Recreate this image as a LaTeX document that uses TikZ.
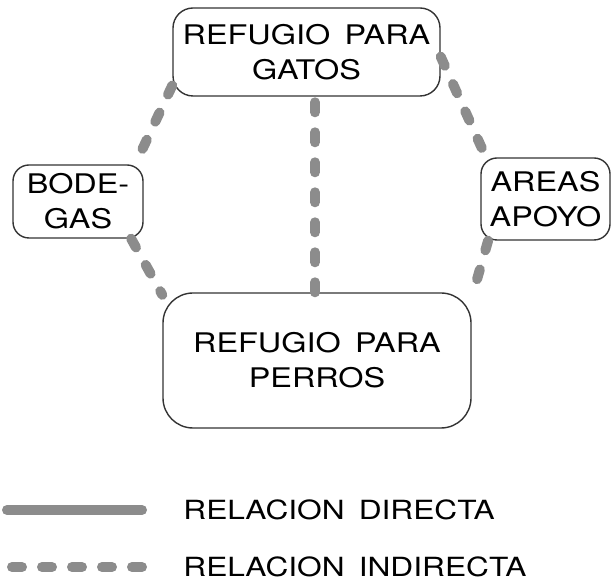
\documentclass[tikz,border=0pt]{standalone}
\usepackage{fontspec}
\setmainfont{TeX Gyre Heros}[FakeStretch=1.2, WordSpace=1.6]
\usetikzlibrary{positioning}

\begin{document}
\begin{tikzpicture}[x=0.5pt,y=-0.5pt,
  area/.style={draw=black!80, line width=0.7pt, align=center, inner sep=0pt,
    font=\fontsize{13.5}{17.5}\selectfont},
  indirecta/.style={draw=black!45, line width=5pt, line cap=round, dash pattern=on 5pt off 10pt},
  directa/.style={draw=black!45, line width=5pt, line cap=round},
  leyenda/.style={anchor=west, inner sep=0pt, font=\fontsize{13.2}{16}\selectfont}]
\useasboundingbox (0,0) rectangle (611,582);
\node (gatos) at (306.5,52) [area, rounded corners=10pt, minimum width=133.5pt, minimum height=44pt] {REFUGIO PARA\\GATOS};
\node (bodegas) at (78,201.5) [area, rounded corners=8pt, minimum width=65pt, minimum height=36.5pt] {BODE-\\GAS};
\node (apoyo) at (545.5,199) [area, rounded corners=8pt, minimum width=64.5pt, minimum height=41pt] {AREAS\\APOYO};
\node (perros) at (317,360.5) [area, rounded corners=15pt, minimum width=154pt, minimum height=67.5pt] {REFUGIO PARA\\PERROS};
\draw [indirecta] (gatos.194) -- (bodegas.33);
\draw [indirecta] (bodegas.-35) -- (perros.157);
\draw [indirecta] (perros.north -| 315,0) -- (gatos.south -| 315,0);
\draw [indirecta] (gatos.-2) -- (apoyo.145);
\draw [indirecta] (apoyo.216) -- (perros.22);
\coordinate (d1) at (7,510);
\coordinate (d2) at (142,510);
\coordinate (i1) at (7,567);
\coordinate (i2) at (142,567);
\draw [directa] (d1) -- (d2);
\draw [indirecta] (i2) -- (i1);
\node (tdirecta) at (183,510) [leyenda] {RELACION DIRECTA};
\node (tindirecta) at (183,567) [leyenda] {RELACION INDIRECTA};
\end{tikzpicture}
\end{document}
